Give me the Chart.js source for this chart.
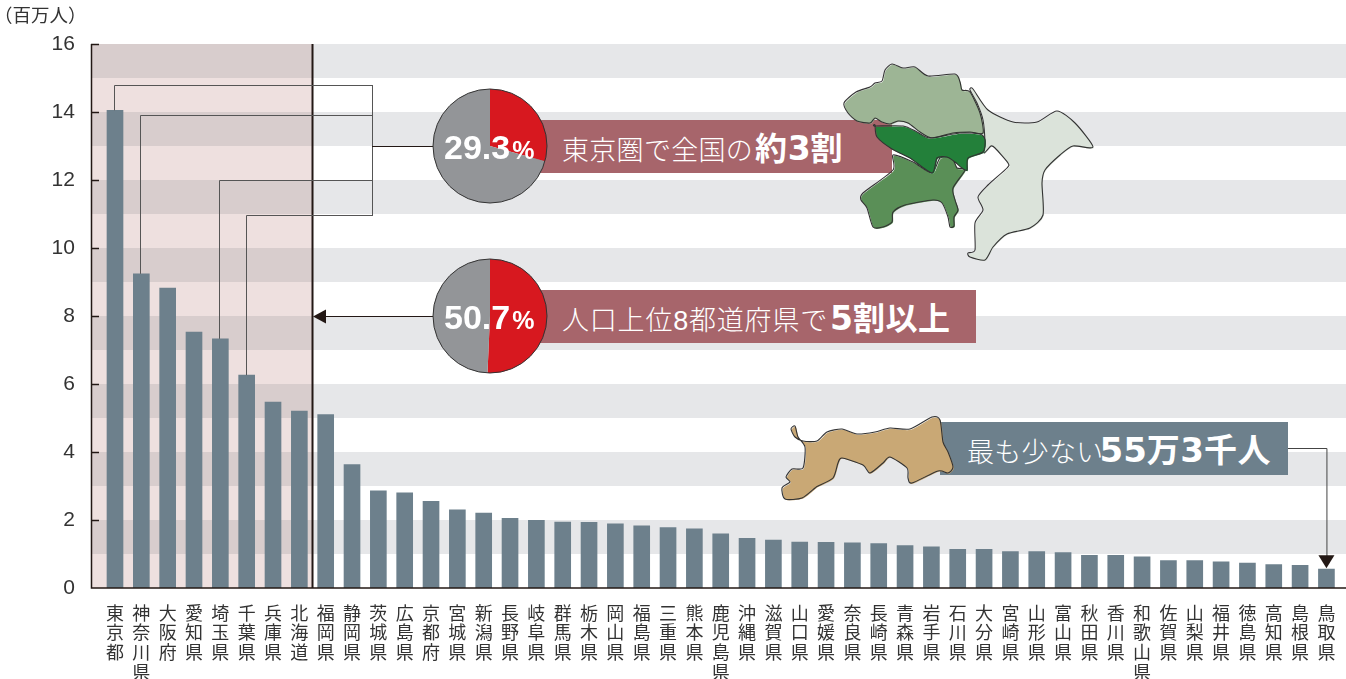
<!DOCTYPE html>
<html lang="ja">
<head>
<meta charset="utf-8">
<script src="https://cdn.jsdelivr.net/npm/chart.js@4"></script>
<style>
  body { margin: 0; background: #fff; overflow: hidden; }
  #stage { position: relative; width: 1346px; height: 679px; font-family: "Liberation Sans", "Noto Sans CJK JP", sans-serif; }
  #stage canvas { position: absolute; }
  #unit { position: absolute; left: -6px; top: 1px; font: 18.5px/26px "Noto Sans CJK JP"; color: #333; white-space: nowrap; }
  .ribbon { position: absolute; height: 53px; line-height: 53px; color: #fff; white-space: nowrap; font-size: 27px; font-weight: 300; letter-spacing: 0.3px; z-index: 1; font-family: "Liberation Sans", "Noto Sans CJK JP"; }
  .ribbon b { font-size: 32px; font-weight: 700; font-family: "Noto Sans CJK JP"; margin-left: 2px; letter-spacing: 0.5px; }
  .ribbon b i { font: 700 33px "DejaVu Sans"; letter-spacing: 0; }
  .ribbon.big b { font-size: 33px; margin-left: -4px; }
  .ribbon.big b i { font-size: 34px; }
  .pct { position: absolute; z-index: 4; color: #fff; font: 700 34px/40px "Liberation Sans"; white-space: nowrap; }
  .pct small { font-size: 25px; margin-left: 2px; }
  #maps { position: absolute; left: 0; top: 0; z-index: 3; }
</style>
</head>
<body>
<div id="stage">
  <canvas id="bars" width="1346" height="679" style="left:0;top:0"></canvas>
  <div id="unit">（百万人）</div>

  <div class="ribbon" style="left:530px;top:120px;width:330px;padding-left:32px;background:#a7656b">東京圏で全国の<b>約<i>3</i>割</b></div>
  <div class="ribbon" style="left:530px;top:290px;width:414px;padding-left:32px;background:#a7656b;letter-spacing:0.8px">人口上位8都道府県で<b><i>5</i>割以上</b></div>
  <div class="ribbon big" style="left:940px;top:422px;width:321px;padding-left:27px;background:#6d808c">最も少ない<b><i>55</i>万<i>3</i>千人</b></div>

  <canvas id="pie1" width="118" height="118" style="left:431px;top:87px;z-index:2"></canvas>
  <canvas id="pie2" width="118" height="118" style="left:431px;top:257px;z-index:2"></canvas>
  <div class="pct" style="left:444px;top:127px">29.3<small>%</small></div>
  <div class="pct" style="left:444px;top:297px">50.7<small>%</small></div>

  <svg id="maps" width="1346" height="679"></svg>
</div>

<script>
const prefectures = ['東京都', '神奈川県', '大阪府', '愛知県', '埼玉県', '千葉県', '兵庫県', '北海道', '福岡県', '静岡県',
  '茨城県', '広島県', '京都府', '宮城県', '新潟県', '長野県', '岐阜県', '群馬県', '栃木県', '岡山県',
  '福島県', '三重県', '熊本県', '鹿児島県', '沖縄県', '滋賀県', '山口県', '愛媛県', '奈良県', '長崎県',
  '青森県', '岩手県', '石川県', '大分県', '宮崎県', '山形県', '富山県', '秋田県', '香川県', '和歌山県',
  '佐賀県', '山梨県', '福井県', '徳島県', '高知県', '島根県', '鳥取県'];
const population = [14.05, 9.24, 8.82, 7.53, 7.33, 6.26, 5.47, 5.2, 5.1, 3.63,
  2.86, 2.8, 2.55, 2.3, 2.2, 2.05, 1.99, 1.94, 1.93, 1.89,
  1.83, 1.78, 1.74, 1.59, 1.46, 1.41, 1.35, 1.34, 1.33, 1.31,
  1.25, 1.21, 1.14, 1.14, 1.07, 1.07, 1.04, 0.96, 0.96, 0.92,
  0.81, 0.81, 0.77, 0.73, 0.69, 0.67, 0.553];
const yTicks = [0, 2, 4, 6, 8, 10, 12, 14, 16];
const bandTops = [16, 14, 12, 10, 8, 6, 4, 2];
const tokyoAreaShare = [29.3, 70.7];
const top8Share = [50.7, 49.3];

const INK = '#231815';

// grey stripes, pink block, axes and the annotation lines
const decorations = {
  id: 'decorations',
  beforeDatasetsDraw(chart) {
    const { ctx, scales: { x, y } } = chart;
    const splitX = (x.getPixelForValue(7) + x.getPixelForValue(8)) / 2;
    ctx.save();
    ctx.fillStyle = '#e6e7e9';
    bandTops.forEach(v => ctx.fillRect(91, y.getPixelForValue(v), 1255, y.getPixelForValue(v - 1) - y.getPixelForValue(v)));
    ctx.fillStyle = '#eee0df';
    ctx.fillRect(91, y.top, splitX - 91, y.height);
    ctx.fillStyle = '#d8cdcd';
    bandTops.forEach(v => ctx.fillRect(91, y.getPixelForValue(v), splitX - 91, y.getPixelForValue(v - 1) - y.getPixelForValue(v)));
    ctx.restore();
  },
  afterDatasetsDraw(chart) {
    const { ctx, scales: { x, y } } = chart;
    const splitX = (x.getPixelForValue(7) + x.getPixelForValue(8)) / 2;
    const line = (pts, color, width) => {
      ctx.strokeStyle = color;
      ctx.lineWidth = width;
      ctx.beginPath();
      pts.forEach((p, i) => i ? ctx.lineTo(p[0], p[1]) : ctx.moveTo(p[0], p[1]));
      ctx.stroke();
    };
    const triangle = (pts) => {
      ctx.fillStyle = INK;
      ctx.beginPath();
      pts.forEach((p, i) => i ? ctx.lineTo(p[0], p[1]) : ctx.moveTo(p[0], p[1]));
      ctx.fill();
    };
    ctx.save();
    // axes and inward ticks
    line([[91.5, y.top], [91.5, y.bottom], [1346, y.bottom]], INK, 1.5);
    yTicks.slice(1).forEach(v => {
      const py = Math.round(y.getPixelForValue(v));
      line([[91, py + 0.5], [99, py + 0.5]], INK, 1.5);
    });
    line([[splitX, y.top], [splitX, y.bottom]], INK, 2);

    // bracket from the 4 Tokyo-area prefectures to the pie
    const bracket = [[0, 85], [1, 115], [4, 180], [5, 215]];
    bracket.forEach(([i, py]) => {
      const px = Math.round(x.getPixelForValue(i)) - 0.5;
      line([[px, y.getPixelForValue(population[i])], [px, py + 0.5], [372.5, py + 0.5]], '#555', 1);
    });
    line([[372.5, 85], [372.5, 216]], '#555', 1);
    line([[372, 146.5], [433, 146.5]], INK, 1);

    // arrow to the top-8 line
    line([[325, 316.5], [433, 316.5]], INK, 1);
    triangle([[313, 316.5], [326, 309.5], [326, 323.5]]);

    // arrow to the smallest bar
    const lastX = x.getPixelForValue(prefectures.length - 1);
    const lastY = y.getPixelForValue(population[population.length - 1]);
    line([[1288, 448.5], [lastX + 0.5, 448.5], [lastX + 0.5, lastY - 12]], '#444', 1);
    triangle([[lastX, lastY - 1], [lastX - 8, lastY - 14], [lastX + 8, lastY - 14]]);
    ctx.restore();
  }
};

new Chart(document.getElementById('bars'), {
  type: 'bar',
  data: {
    labels: prefectures,
    datasets: [{ data: population, backgroundColor: '#6d808c', barThickness: 16 }]
  },
  options: {
    responsive: false,
    animation: false,
    layout: { padding: { top: 44, right: 6.4, left: 0, bottom: 0 } },
    plugins: { legend: { display: false }, tooltip: { enabled: false } },
    scales: {
      x: {
        afterFit: s => { s.height = 91; },
        grid: { display: false },
        border: { display: false },
        ticks: {
          autoSkip: false,
          maxRotation: 0,
          minRotation: 0,
          padding: 7,
          color: '#333',
          font: { family: '"Noto Sans CJK JP"', size: 18, lineHeight: 1.09 },
          callback: (v, i) => prefectures[i].split('')
        }
      },
      y: {
        min: 0,
        max: 16,
        afterFit: s => { s.width = 101.83; },
        afterBuildTicks: s => { s.ticks = yTicks.map(value => ({ value })); },
        grid: { display: false },
        border: { display: false },
        ticks: {
          padding: 19,
          color: '#333',
          font: { family: '"Liberation Sans"', size: 21 }
        }
      }
    }
  },
  plugins: [decorations]
});

// outline round the pie
const pieRing = {
  id: 'pieRing',
  afterDraw(chart) {
    const arc = chart.getDatasetMeta(0).data[0];
    const { ctx } = chart;
    ctx.save();
    ctx.strokeStyle = '#333';
    ctx.lineWidth = 1;
    ctx.beginPath();
    ctx.arc(arc.x, arc.y, arc.outerRadius, 0, Math.PI * 2);
    ctx.stroke();
    ctx.restore();
  }
};

function drawPie(id, values) {
  new Chart(document.getElementById(id), {
    type: 'pie',
    data: { datasets: [{ data: values, backgroundColor: ['#d7181f', '#939598'], borderWidth: 0, radius: 57 }] },
    options: {
      responsive: false,
      animation: false,
      plugins: { legend: { display: false }, tooltip: { enabled: false } }
    },
    plugins: [pieRing]
  });
}
drawPie('pie1', tokyoAreaShare);
drawPie('pie2', top8Share);

// map outlines
const chibaOutline = [[970,90],[973,89],[988,110],[1013,122],[1037,122],[1057,111],[1075,123],[1093,147],[1073,146],[1060,155],[1045,170],[1042,183],[1043,215],[1030,228],[1007,234],[993,247],[985,260],[970,257],[968,253],[975,250],[975,223],[983,210],[978,197],[988,185],[1007,168],[1008,163],[995,148],[991,146],[984,153],[985,143],[983,120],[977,103]];
const saitamaOutline = [[844,103],[856,92],[870,87],[875,83],[882,81],[885,70],[892,64],[903,68],[915,67],[928,76],[955,74],[960,82],[962,90],[970,92],[980,113],[983,133],[970,132],[953,133],[932,138],[920,132],[908,123],[898,121],[890,124],[882,122],[875,118],[870,123],[857,121],[848,113]];
const kanagawaOutline = [[893,155],[893,170],[863,193],[861,200],[867,208],[873,227],[883,227],[892,222],[893,212],[905,205],[933,200],[942,203],[948,217],[950,227],[954,226],[954,217],[958,210],[955,200],[953,188],[965,170],[957,168],[952,158],[940,158],[932,173],[913,162]];
const tokyoOutline = [[875,125],[877,137],[892,149],[910,158],[932,173],[937,158],[947,157],[955,162],[962,168],[967,170],[968,158],[983,152],[985,140],[980,134],[960,133],[930,138],[917,132],[903,126],[875,126]];
const tottoriOutline = [[795,426],[791,429],[795,437],[803,441],[817,441],[827,432],[842,429],[857,434],[875,432],[890,428],[910,429],[932,417],[940,420],[943,442],[948,452],[953,467],[948,473],[938,471],[912,483],[908,478],[907,468],[890,457],[883,463],[870,473],[863,465],[842,458],[838,463],[833,478],[818,486],[815,488],[802,498],[785,499],[782,488],[790,482],[786,477],[792,469],[803,468],[805,447],[798,437]];

// catmull-rom through the traced points, so corners stay where they were traced
function smoothPath(pts) {
  const n = pts.length;
  const k = 0.12;
  let d = `M${pts[0][0]} ${pts[0][1]}`;
  pts.forEach((p, i) => {
    const prev = pts[(i - 1 + n) % n];
    const next = pts[(i + 1) % n];
    const after = pts[(i + 2) % n];
    d += ` C${p[0] + (next[0] - prev[0]) * k} ${p[1] + (next[1] - prev[1]) * k}` +
      ` ${next[0] - (after[0] - p[0]) * k} ${next[1] - (after[1] - p[1]) * k} ${next[0]} ${next[1]}`;
  });
  return d + 'Z';
}

const svg = document.getElementById('maps');
const shapes = [
  [chibaOutline, '#dbe3da'],
  [saitamaOutline, '#9db595'],
  [kanagawaOutline, '#5a8f57'],
  [tokyoOutline, '#23803a'],
  [tottoriOutline, '#c9a875']
];
svg.innerHTML = shapes.map(([pts, fill]) => {
  const d = smoothPath(pts);
  return `<path d="${d}" fill="${fill}" transform="translate(0.8 0.8)"/>` +
    `<path d="${d}" fill="none" stroke="#333" stroke-width="1.1" stroke-linejoin="round"/>`;
}).join('');
</script>
</body>
</html>
